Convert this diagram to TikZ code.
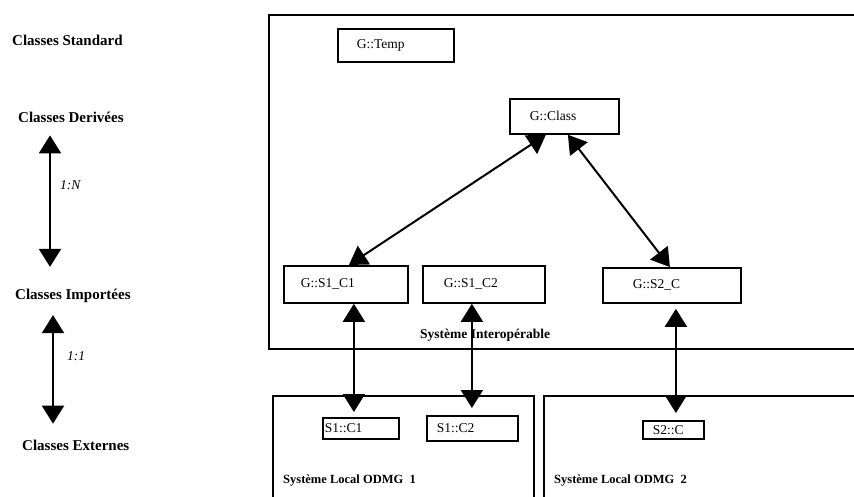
\documentclass[tikz,border=0pt]{standalone}
\usepackage{fontspec}
\setmainfont{Liberation Serif}
\usetikzlibrary{arrows.meta}

\begin{document}
\begin{tikzpicture}[x=1pt,y=-1pt,
  cls/.style={draw,line width=1.8pt,anchor=north west,align=left,inner ysep=0pt,font=\fontsize{13.5}{16}\selectfont},
  zone/.style={draw,line width=1.8pt,anchor=north west,inner sep=0pt},
  lvl/.style={anchor=base west,inner sep=0pt,font=\fontsize{15}{18}\selectfont\bfseries},
  zname/.style={anchor=base west,inner sep=0pt,font=\fontsize{13.5}{16}\selectfont\bfseries},
  card/.style={anchor=base west,inner sep=0pt,font=\fontsize{13.5}{16}\selectfont\itshape},
  link/.style={line width=2pt,{Triangle[length=18pt,width=22pt]}-{Triangle[length=18pt,width=22pt]}}]
  \useasboundingbox (0,0) rectangle (854,497);
  \clip (0,0) rectangle (854,497);

  % Levels
  \node[lvl] (std) at (12,46) {Classes Standard};
  \node[lvl] (deriv) at (18,123) {Classes Derivées};
  \node[lvl] (import) at (15,299) {Classes Importées};
  \node[lvl] (extern) at (22,450) {Classes Externes};
  \node[card] (n1) at (60,190) {1:N};
  \node[card] (n2) at (67,360) {1:1};
  \draw[link,shorten <=12pt,shorten >=21.5pt] ([xshift=32pt]deriv.south west) -- ([xshift=35pt]import.north west);
  \draw[link,shorten <=12.7pt,shorten >=15.7pt] ([xshift=38pt]import.south west) -- ([xshift=31pt]extern.north west);

  % Systems
  \node[zone,minimum width=594pt,minimum height=334pt] (interop) at (268,14) {};
  \node[zone,minimum width=261pt,minimum height=110pt] (local1) at (272,395) {};
  \node[zone,minimum width=319pt,minimum height=110pt] (local2) at (543,395) {};
  \node[zname] (interopname) at (420,338) {Système Interopérable};
  \node[zname,font=\fontsize{12.5}{15}\selectfont\bfseries] (local1name) at (283,483) {Système Local ODMG~~1};
  \node[zname,font=\fontsize{12.5}{15}\selectfont\bfseries] (local2name) at (554,483) {Système Local ODMG~~2};

  % Global classes
  \node[cls,text width=78pt,inner xsep=19pt,minimum height=33pt] (gtemp) at (337,28) {G::Temp};
  \node[cls,text width=69pt,inner xsep=20pt,minimum height=35pt] (gclass) at (509,98) {G::Class};
  \node[cls,text width=90pt,inner xsep=17pt,minimum height=37pt] (gs1c1) at (283,265) {G::S1\_C1};
  \node[cls,text width=80pt,inner xsep=21pt,minimum height=37pt] (gs1c2) at (422,265) {G::S1\_C2};
  \node[cls,text width=78pt,inner xsep=30pt,minimum height=35pt] (gs2c) at (602,267) {G::S2\_C};

  % Local classes
  \node[cls,text width=72pt,inner xsep=2pt,minimum height=21pt] (ls1c1) at (322,417) {S1::C1};
  \node[cls,text width=71pt,inner xsep=10pt,minimum height=25pt] (ls1c2) at (426,415) {S1::C2};
  \node[cls,text width=41pt,inner xsep=10pt,minimum height=18pt] (ls2c) at (642,420) {S2::C};

  % Derivation
  \draw[link] ([xshift=-18.5pt]gclass.south) -- ([xshift=3pt]gs1c1.north);
  \draw[link] ([xshift=3.5pt]gclass.south) -- ([xshift=-2pt]gs2c.north);

  % Import
  \draw[link,shorten >=5pt] ([xshift=8pt]gs1c1.south) -- ([xshift=-7pt]ls1c1.north);
  \draw[link,shorten >=7pt] ([xshift=-12pt]gs1c2.south) -- ([xshift=-0.5pt]ls1c2.north);
  \draw[link,shorten <=5pt,shorten >=7pt] ([xshift=4pt]gs2c.south) -- ([xshift=2.5pt]ls2c.north);
\end{tikzpicture}
\end{document}
